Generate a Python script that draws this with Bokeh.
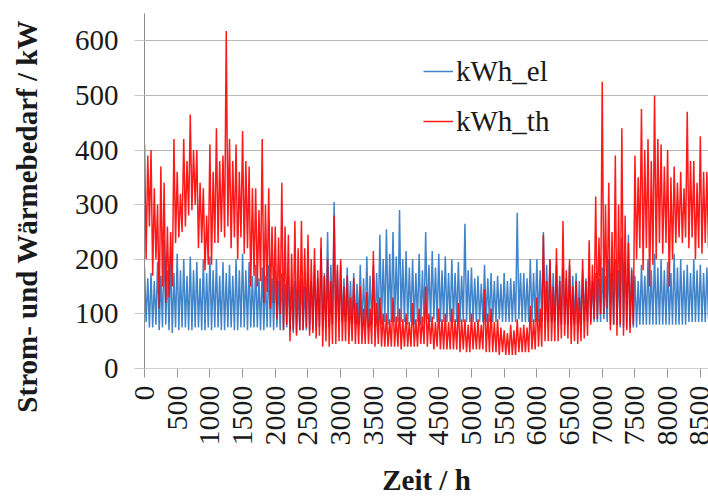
import math
from bokeh.plotting import figure
from bokeh.models import Range1d, FixedTicker, Legend, LegendItem
from bokeh.embed import file_html
from bokeh.resources import INLINE

# Start hour of each 50 h window (0 ... 8750)
hours = list(range(0, 8760, 50))

# kWh_el: upper / lower value in each 50 h window (kW)
el_hi = [185, 165, 175, 160, 195, 170, 235, 180, 205, 175,
         210, 180, 200, 170, 205, 180, 195, 165, 200, 175,
         205, 180, 200, 170, 195, 175, 190, 170, 200, 180,
         210, 180, 195, 170, 190, 165, 185, 170, 190, 165,
         180, 160, 175, 155, 170, 150, 160, 145, 165, 150,
         175, 160, 190, 165, 220, 175, 250, 190, 305, 180,
         190, 165, 185, 160, 175, 155, 190, 165, 205, 170,
         190, 175, 245, 200, 255, 210, 250, 205, 290, 200,
         215, 185, 200, 175, 210, 180, 250, 190, 215, 185,
         210, 180, 205, 175, 200, 175, 195, 170, 265, 180,
         185, 165, 170, 155, 190, 165, 175, 160, 170, 155,
         175, 160, 165, 160, 285, 175, 175, 165, 200, 175,
         200, 180, 250, 190, 200, 175, 190, 170, 185, 165,
         190, 170, 175, 160, 180, 165, 170, 160, 175, 165,
         185, 170, 200, 175, 200, 180, 240, 195, 245, 185,
         170, 160, 190, 170, 200, 180, 210, 185, 200, 180,
         195, 175, 210, 185, 200, 180, 190, 175, 200, 180,
         190, 175, 185, 170, 190, 175]
el_lo = [85, 75, 75, 80, 70, 75, 80, 70, 65, 75,
         70, 75, 75, 70, 70, 75, 75, 70, 70, 75,
         70, 75, 75, 70, 70, 75, 75, 70, 70, 75,
         75, 70, 75, 75, 75, 70, 70, 75, 75, 70,
         75, 70, 70, 75, 70, 65, 65, 70, 70, 70,
         70, 70, 70, 75, 70, 75, 75, 80, 90, 85,
         85, 85, 85, 80, 80, 80, 75, 80, 75, 80,
         75, 80, 80, 85, 80, 85, 85, 85, 85, 85,
         80, 85, 80, 85, 80, 85, 90, 85, 90, 85,
         85, 85, 85, 85, 85, 85, 85, 85, 85, 85,
         85, 85, 85, 85, 85, 85, 85, 85, 90, 85,
         85, 85, 85, 85, 90, 85, 85, 85, 85, 85,
         85, 85, 85, 85, 85, 85, 80, 80, 80, 80,
         80, 80, 80, 80, 85, 85, 85, 85, 85, 85,
         90, 85, 80, 80, 80, 75, 75, 75, 75, 75,
         75, 80, 80, 80, 80, 80, 80, 80, 80, 80,
         80, 80, 80, 80, 80, 80, 85, 85, 85, 85,
         85, 85, 90, 90, 90, 90]

# kWh_th: upper / lower value in each 50 h window (kW)
th_hi = [410, 390, 400, 330, 300, 370, 340, 260, 250, 420,
         360, 320, 420, 380, 465, 400, 400, 340, 330, 280,
         410, 360, 440, 380, 390, 618, 420, 380, 410, 360,
         435, 380, 370, 330, 330, 290, 420, 300, 330, 260,
         260, 240, 340, 260, 245, 210, 270, 220, 270, 220,
         245, 200, 220, 180, 240, 170, 200, 160, 280, 190,
         200, 150, 170, 130, 165, 120, 150, 110, 140, 110,
         215, 120, 130, 100, 100, 90, 130, 95, 110, 90,
         100, 85, 120, 90, 110, 95, 150, 100, 95, 85,
         110, 90, 100, 85, 110, 90, 120, 90, 90, 80,
         100, 85, 90, 80, 145, 100, 110, 85, 90, 75,
         70, 65, 80, 70, 90, 75, 80, 75, 115, 90,
         130, 110, 245, 160, 200, 150, 220, 160, 270, 180,
         200, 150, 160, 130, 200, 160, 235, 190, 315, 240,
         525, 300, 340, 250, 390, 300, 440, 280, 230, 180,
         390, 350, 475, 400, 420, 380, 500, 420, 410, 370,
         400, 350, 370, 340, 360, 330, 470, 380, 380, 340,
         425, 360, 360, 340, 350, 330]
th_lo = [200, 260, 170, 200, 110, 150, 120, 130, 150, 230,
         240, 250, 260, 280, 290, 300, 220, 230, 180, 190,
         190, 230, 230, 250, 240, 260, 220, 240, 200, 240,
         210, 220, 150, 170, 150, 160, 120, 140, 110, 120,
         90, 100, 70, 80, 50, 70, 60, 70, 70, 75,
         60, 65, 55, 60, 40, 50, 40, 45, 45, 50,
         50, 50, 45, 50, 45, 45, 45, 45, 45, 45,
         40, 45, 40, 40, 40, 40, 40, 40, 35, 40,
         40, 40, 40, 40, 45, 45, 40, 45, 35, 40,
         35, 35, 35, 35, 35, 35, 30, 35, 30, 30,
         35, 35, 35, 35, 30, 30, 30, 30, 25, 30,
         25, 25, 25, 25, 30, 30, 30, 30, 35, 35,
         40, 40, 50, 50, 50, 50, 50, 55, 60, 55,
         45, 50, 45, 50, 55, 60, 80, 90, 90, 100,
         100, 110, 70, 80, 60, 80, 60, 70, 65, 80,
         200, 220, 180, 220, 150, 190, 200, 230, 210, 230,
         150, 200, 230, 240, 230, 240, 220, 240, 200, 220,
         210, 230, 220, 230, 230, 240]

x_ticks = [0, 500, 1000, 1500, 2000, 2500, 3000, 3500, 4000, 4500,
           5000, 5500, 6000, 6500, 7000, 7500, 8000, 8500]
y_ticks = [0, 100, 200, 300, 400, 500, 600]


def zigzag(hi, lo):
    xs, ys = [], []
    for t, h, l in zip(hours, hi, lo):
        xs += [t, t + 25]
        ys += [h, l]
    return xs, ys


FONT = "Liberation Serif"

p = figure(width=708, height=498,
           x_range=Range1d(0, 8625), y_range=Range1d(0, 650),
           output_backend="svg", toolbar_location=None,
           min_border_left=144, min_border_right=0,
           min_border_top=13, min_border_bottom=130)
p.outline_line_color = None
p.background_fill_color = "white"
p.border_fill_color = "white"

ex, ey = zigzag(el_hi, el_lo)
tx, ty = zigzag(th_hi, th_lo)
r_el = p.line(ex, ey, line_color="#1f6fc2", line_width=1.5, line_alpha=0.85)
r_th = p.line(tx, ty, line_color="#ff0000", line_width=1.5, line_alpha=0.9)

# x axis
xa = p.xaxis[0]
xa.ticker = FixedTicker(ticks=x_ticks)
xa.major_label_orientation = math.pi / 2
xa.major_label_text_font = FONT
xa.major_label_text_font_size = "30px"
xa.major_label_text_color = "#1a1a1a"
xa.major_label_standoff = 8
xa.axis_line_color = "#d0d0d0"
xa.major_tick_line_color = "#999999"
xa.major_tick_out = 9
xa.major_tick_in = 0
xa.minor_tick_line_color = None
xa.axis_label = "Zeit / h"
xa.axis_label_text_font = FONT
xa.axis_label_text_font_style = "bold"
xa.axis_label_text_font_size = "29px"
xa.axis_label_text_color = "#1a1a1a"
xa.axis_label_standoff = 15

# y axis
ya = p.yaxis[0]
ya.ticker = FixedTicker(ticks=y_ticks)
ya.major_label_text_font = FONT
ya.major_label_text_font_size = "29px"
ya.major_label_text_color = "#1a1a1a"
ya.major_label_standoff = 16
ya.axis_line_color = "#8c8c8c"
ya.major_tick_line_color = "#c8c8c8"
ya.major_tick_out = 10
ya.major_tick_in = 0
ya.minor_tick_line_color = None
# trailing no-break spaces move the visible title a little below the
# frame centre, where the reference has it
ya.axis_label = "Strom- und Wärmebedarf / kW" + "\u00a0" * 7
ya.axis_label_text_font = FONT
ya.axis_label_text_font_style = "bold"
ya.axis_label_text_font_size = "29px"
ya.axis_label_text_color = "#1a1a1a"
ya.axis_label_standoff = 29

p.xgrid.grid_line_color = None
p.ygrid.ticker = FixedTicker(ticks=y_ticks)
p.ygrid.grid_line_color = "#b8b8b8"
p.ygrid.grid_line_width = 1

legend = Legend(items=[LegendItem(label="kWh_el", renderers=[r_el]),
                       LegendItem(label="kWh_th", renderers=[r_th])],
                location=(279, 222),
                background_fill_alpha=0, border_line_alpha=0,
                padding=0, margin=0, spacing=0,
                glyph_width=30, glyph_height=50, label_height=50,
                label_standoff=3,
                label_text_font=FONT, label_text_font_size="29px",
                label_text_color="#1a1a1a")
p.add_layout(legend)

open("out.html", "w").write(file_html(p, INLINE))
